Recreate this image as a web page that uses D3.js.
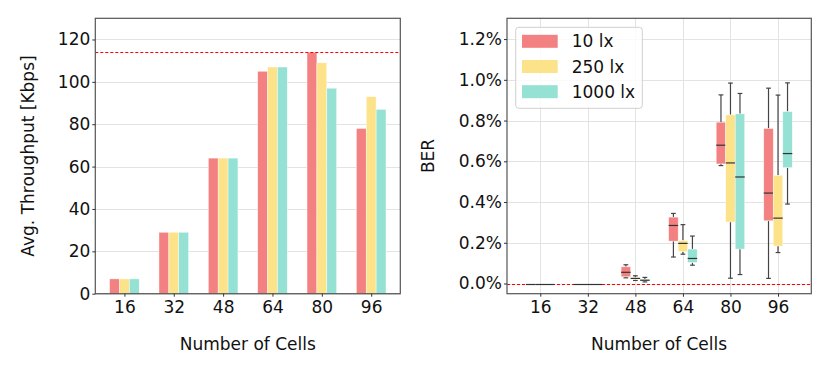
<!DOCTYPE html>
<html><head><meta charset="utf-8">
<script src="https://cdn.jsdelivr.net/npm/d3@7"></script>
<style>body{margin:0;background:#fff}text{font-family:"DejaVu Sans",sans-serif;fill:#111}</style>
</head><body><svg id="c" width="830" height="374"></svg>
<script>
const categories = ["16","32","48","64","80","96"];
const seriesNames = ["10 lx","250 lx","1000 lx"];
const colors = ["#F38181","#FCE38A","#95E1D3"];
const throughput10 = [7,29,64,105,114,78];
const throughput250 = [7,29,64,107,109,93];
const throughput1000 = [7,29,64,107,97,87];
const throughputLimit = 114;
const throughputTicks = [0,20,40,60,80,100,120];
// BER in %: [whiskerLow, q1, median, q3, whiskerHigh] per category
const ber10 = [[0,0,0,0,0],[0,0,0,0,0],[0.028,0.033,0.055,0.082,0.092],[0.130,0.208,0.285,0.326,0.344],[0.579,0.587,0.679,0.792,0.926],[0.025,0.308,0.444,0.761,0.959]];
const ber250 = [[0,0,0,0,0],[0,0,0,0,0],[0.015,0.020,0.025,0.030,0.038],[0.144,0.157,0.197,0.211,0.289],[0.026,0.302,0.592,0.828,0.984],[0.152,0.184,0.321,0.531,0.925]];
const ber1000 = [[0,0,0,0,0],[0,0,0,0,0],[0.008,0.013,0.016,0.021,0.030],[0.090,0.103,0.123,0.169,0.233],[0.044,0.169,0.523,0.833,0.933],[0.390,0.569,0.638,0.844,0.985]];
const berTicks = [0,0.2,0.4,0.6,0.8,1.0,1.2];

const svg = d3.select("#c");
const FS = 17;
const topY = 18.3, bottomY = 293.7;
const crisp = v => Math.round(v) + 0.5;

function frame(g, x0, x1) {
  g.append("rect").attr("x",x0).attr("y",topY).attr("width",x1-x0).attr("height",bottomY-topY)
   .attr("fill","none").attr("stroke","#555").attr("stroke-width",1.2);
}

// ---------- Left: throughput bars ----------
{
  const L = 95.3, R = 400.3;
  const g = svg.append("g");
  const x = d3.scaleLinear().domain([-0.59,5.59]).range([L,R]);
  const y = d3.scaleLinear().domain([0,130]).range([bottomY,topY]);
  g.selectAll(".gy").data(throughputTicks).join("line")
    .attr("x1",L).attr("x2",R).attr("y1",d=>crisp(y(d))).attr("y2",d=>crisp(y(d)))
    .attr("stroke","#e3e3e3").attr("stroke-width",1);
  const series = [throughput10,throughput250,throughput1000];
  series.forEach((s,si)=>{
    g.selectAll(".b"+si).data(s).join("rect")
      .attr("x",(d,i)=>x(i+(si-1)*0.2-0.1))
      .attr("width",x(0.2)-x(0))
      .attr("y",d=>y(d)).attr("height",d=>y(0)-y(d))
      .attr("fill",colors[si]).attr("stroke","#fff").attr("stroke-width",0.6).attr("stroke-opacity",0.7);
  });
  g.append("line").attr("x1",L).attr("x2",R).attr("y1",crisp(y(throughputLimit))).attr("y2",crisp(y(throughputLimit)))
    .attr("stroke","#f00").attr("stroke-width",1).attr("stroke-dasharray","3,2");
  frame(g,L,R);
  const ya = d3.axisLeft(y).tickValues(throughputTicks).tickSize(3).tickPadding(2).tickFormat(d3.format("d"));
  const ay = g.append("g").attr("transform",`translate(${L},0)`).call(ya);
  ay.select(".domain").remove();
  ay.selectAll("text").attr("font-size",FS).style("fill","#111");
  ay.selectAll("line").attr("stroke","#333");
  const xa = d3.axisBottom(x).tickValues(d3.range(categories.length)).tickFormat(i=>categories[i]).tickSize(3).tickPadding(4);
  const ax = g.append("g").attr("transform",`translate(0,${bottomY})`).call(xa);
  ax.select(".domain").remove();
  ax.selectAll("text").attr("font-size",FS).style("fill","#111");
  ax.selectAll("line").attr("stroke","#333");
  g.append("text").attr("x",(L+R)/2).attr("y",350).attr("text-anchor","middle").attr("font-size",FS).text("Number of Cells");
  g.append("text").attr("transform","translate(28,156) rotate(-90)").attr("text-anchor","middle")
    .attr("dominant-baseline","central").attr("font-size",FS).text("Avg. Throughput [Kbps]");
}

// ---------- Right: BER boxplots ----------
{
  const L = 507, R = 811.3;
  const g = svg.append("g");
  const x = d3.scaleLinear().domain([-0.7,5.7]).range([L,R]);
  const y = d3.scaleLinear().domain([-0.05,1.302]).range([bottomY,topY]);
  g.selectAll(".gy").data(berTicks).join("line")
    .attr("x1",L).attr("x2",R).attr("y1",d=>crisp(y(d))).attr("y2",d=>crisp(y(d)))
    .attr("stroke","#e3e3e3").attr("stroke-width",1);
  g.selectAll(".gx").data(d3.range(categories.length)).join("line")
    .attr("y1",topY).attr("y2",bottomY).attr("x1",d=>crisp(x(d))).attr("x2",d=>crisp(x(d)))
    .attr("stroke","#e3e3e3").attr("stroke-width",1);
  g.append("line").attr("x1",L).attr("x2",R).attr("y1",crisp(y(0))).attr("y2",crisp(y(0)))
    .attr("stroke","#f00").attr("stroke-width",1).attr("stroke-dasharray","3,2");
  const series = [ber10,ber250,ber1000];
  const bw = x(0.2)-x(0);
  series.forEach((s,si)=>{
    s.forEach((st,i)=>{
      const cx = x(i+(si-1)*0.2);
      const [lo,q1,md,q3,hi] = st;
      const wc = "#444";
      if (hi === 0) {
        g.append("line").attr("x1",cx-bw/2).attr("x2",cx+bw/2).attr("y1",crisp(y(md))).attr("y2",crisp(y(md))).attr("stroke","#333").attr("stroke-width",1.2);
        return;
      }
      g.append("line").attr("x1",cx).attr("x2",cx).attr("y1",y(lo)).attr("y2",y(q1)).attr("stroke",wc).attr("stroke-width",1.2);
      g.append("line").attr("x1",cx).attr("x2",cx).attr("y1",y(q3)).attr("y2",y(hi)).attr("stroke",wc).attr("stroke-width",1.2);
      g.append("line").attr("x1",cx-bw/4).attr("x2",cx+bw/4).attr("y1",y(lo)).attr("y2",y(lo)).attr("stroke",wc).attr("stroke-width",1.2);
      g.append("line").attr("x1",cx-bw/4).attr("x2",cx+bw/4).attr("y1",y(hi)).attr("y2",y(hi)).attr("stroke",wc).attr("stroke-width",1.2);
      g.append("rect").attr("x",cx-bw/2).attr("width",bw).attr("y",y(q3)).attr("height",Math.max(0,y(q1)-y(q3)))
        .attr("fill",colors[si]).attr("stroke","#fff").attr("stroke-width",0.6).attr("stroke-opacity",0.7);
      g.append("line").attr("x1",cx-bw/2).attr("x2",cx+bw/2).attr("y1",y(md)).attr("y2",y(md)).attr("stroke","#333").attr("stroke-width",1.2);
    });
  });
  frame(g,L,R);
  const ya = d3.axisLeft(y).tickValues(berTicks).tickSize(3).tickPadding(2).tickFormat(d=>d.toFixed(1)+"%");
  const ay = g.append("g").attr("transform",`translate(${L},0)`).call(ya);
  ay.select(".domain").remove();
  ay.selectAll("text").attr("font-size",FS).style("fill","#111");
  ay.selectAll("line").attr("stroke","#333");
  const xa = d3.axisBottom(x).tickValues(d3.range(categories.length)).tickFormat(i=>categories[i]).tickSize(3).tickPadding(4);
  const ax = g.append("g").attr("transform",`translate(0,${bottomY})`).call(xa);
  ax.select(".domain").remove();
  ax.selectAll("text").attr("font-size",FS).style("fill","#111");
  ax.selectAll("line").attr("stroke","#333");
  g.append("text").attr("x",659).attr("y",350).attr("text-anchor","middle").attr("font-size",FS).text("Number of Cells");
  g.append("text").attr("transform","translate(427.5,156) rotate(-90)").attr("text-anchor","middle")
    .attr("dominant-baseline","central").attr("font-size",FS).text("BER");
  const lg = g.append("g");
  lg.append("rect").attr("x",515.7).attr("y",27.3).attr("width",126.6).attr("height",81).attr("rx",3)
    .attr("fill","#fff").attr("fill-opacity",0.8).attr("stroke","#d0d0d0").attr("stroke-width",1);
  seriesNames.forEach((n,i)=>{
    const cy = 41.3 + i*25.2;
    lg.append("rect").attr("x",522).attr("y",cy-6.5).attr("width",35.7).attr("height",13).attr("fill",colors[i]);
    lg.append("text").attr("x",571.7).attr("y",cy).attr("dominant-baseline","central").attr("font-size",FS).text(n);
  });
}
</script></body></html>
